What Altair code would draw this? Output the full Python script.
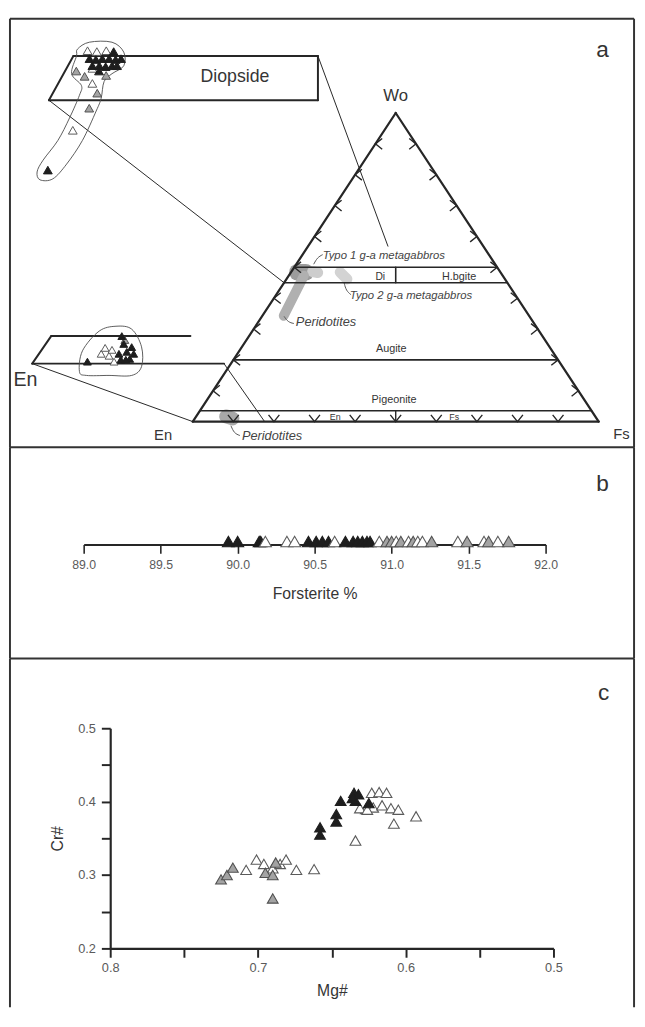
import altair as alt
import pandas as pd

FONT = "Liberation Sans"
INK = "#262626"
TXT = "#353535"
W, HA, HB, HC = 635, 436, 215, 355

# ---------------- panel b : forsterite content of olivine ----------------
fo_pct = [89.94, 90.00, 90.14, 90.15, 90.18, 90.32, 90.37, 90.46, 90.51, 90.55, 90.59,
          90.63, 90.70, 90.75, 90.78, 90.81, 90.84, 90.86, 90.92, 90.97, 91.00, 91.03,
          91.06, 91.11, 91.14, 91.17, 91.20, 91.26, 91.43, 91.49, 91.60, 91.63, 91.69, 91.76]
fo_kind = ["black", "black", "black", "black", "white", "white", "white", "black", "black", "black", "black",
           "white", "black", "black", "black", "black", "black", "black", "white", "gray", "gray", "white",
           "gray", "white", "gray", "white", "white", "gray", "white", "gray", "white", "gray", "white", "gray"]
fo_ticks = [89.0, 89.5, 90.0, 90.5, 91.0, 91.5, 92.0]

# ---------------- panel c : spinel Mg# vs Cr# ----------------
mg_num = [0.725, 0.721, 0.717, 0.695, 0.690, 0.690, 0.688,
          0.708, 0.701, 0.696, 0.690, 0.685, 0.681, 0.674, 0.662, 0.634,
          0.623, 0.618, 0.613, 0.627, 0.622, 0.616, 0.610, 0.605, 0.608, 0.593, 0.631, 0.626,
          0.658, 0.658, 0.647, 0.647, 0.644, 0.635, 0.634, 0.632, 0.636, 0.625]
cr_num = [0.294, 0.300, 0.310, 0.303, 0.300, 0.268, 0.317,
          0.307, 0.321, 0.315, 0.309, 0.315, 0.321, 0.307, 0.308, 0.347,
          0.412, 0.413, 0.412, 0.390, 0.392, 0.395, 0.391, 0.389, 0.370, 0.380, 0.391, 0.389,
          0.365, 0.355, 0.383, 0.373, 0.401, 0.412, 0.401, 0.410, 0.405, 0.398]
sp_kind = ["gray"] * 7 + ["white"] * 21 + ["black"] * 10
mg_ticks = [0.8, 0.75, 0.7, 0.65, 0.6, 0.55, 0.5]
cr_ticks = [0.2, 0.25, 0.3, 0.35, 0.4, 0.45, 0.5]

# ---------------- panel a : pyroxene compositions (mol %) ----------------
cpx_wo = [50.6, 50.5, 50.6, 50.5, 49.7, 49.6, 49.7, 49.7, 49.6, 49.7, 48.9, 48.9, 48.8, 48.9, 48.9,
          48.6, 48.3, 47.7, 48.3, 47.8, 46.9, 45.8, 44.1, 41.6, 37.1]
cpx_fs = [1.15, 2.15, 3.06, 3.87, 1.80, 2.50, 3.11, 3.81, 4.52, 5.02, 2.49, 3.20, 3.90, 4.51, 5.01,
          2.65, 1.15, 2.30, 3.47, 4.45, 3.49, 4.54, 4.57, 4.14, 3.84]
cpx_kind = ["white", "white", "white", "black"] + ["black"] * 11 + ["white", "gray", "gray", "black",
            "gray", "white", "gray", "gray", "white", "black"]

opx_wo = [0.25, 1.25, 2.0, 1.0, 1.75, 0.25, 1.25, 3.5, 2.5, 1.5, 0.6, 0.5, 2.1, 0.5, 3.0, 1.25]
opx_fs = [4.97, 5.74, 5.73, 6.59, 6.49, 7.43, 7.38, 6.52, 7.20, 7.98, 8.70, 7.93, 8.13, 8.39, 7.05, 8.74]
opx_kind = ["black", "white", "white", "white", "white", "white", "black", "black", "black", "black",
            "black", "black", "black", "black", "gray", "black"]

# outlines of the point groups (ternary cartesian units: X = Fs + Wo/2, Y = Wo)
cpx_hull_x = [25.42, 26.63, 28.95, 30.15, 30.15, 28.95, 28.14, 27.84, 27.33, 25.92, 24.31, 22.9,
              21.59, 21.29, 21.9, 23.41, 24.61, 25.62, 25.82, 24.82, 25.32]
cpx_hull_y = [50.78, 51.56, 51.56, 50.44, 48.89, 48.0, 47.11, 45.22, 43.78, 40.44, 37.78, 36.11,
              36.0, 36.89, 38.22, 40.44, 43.0, 45.56, 46.67, 48.0, 50.0]
opx_hull_x = [4.36, 4.64, 6.18, 7.73, 9.18, 10.09, 10.09, 9.18, 7.09, 5.0]
opx_hull_y = [-1.0, 1.63, 4.13, 4.75, 4.38, 2.13, -0.38, -1.5, -1.5, -1.5]

tick_pct = [10, 20, 30, 40, 50, 60, 70, 80, 90]

# enlarged insets: offset / scale in diagram units
DIO = dict(x0=22.5, y0=45.0, ox=-35.44, oy=104.14, sx=2.41, sy=2.866)
ENI = dict(x0=0.0, y0=0.0, ox=-39.56, oy=18.79, sx=2.67, sy=2.55)


def inset(t, X, Y):
    return t["ox"] + (X - t["x0"]) * t["sx"], t["oy"] + (Y - t["y0"]) * t["sy"]


def tern(wo, fs):
    return fs + wo / 2.0, wo


KFILL = alt.Scale(domain=["black", "gray", "white"], range=["#1e1e1e", "#a3a3a3", "#ffffff"])
KSTROKE = alt.Scale(domain=["black", "gray", "white"], range=["#1e1e1e", "#505050", "#5a5a5a"])
ORDER = {"white": 0, "gray": 1, "black": 2}

XS = alt.Scale(domain=[0, 100], range=[186, 599], nice=False, zero=False)
YS = alt.Scale(domain=[0, 100], range=[410, 96], nice=False, zero=False)


def xy():
    return dict(x=alt.X("X:Q", scale=XS, axis=None), y=alt.Y("Y:Q", scale=YS, axis=None))


one = pd.DataFrame({"d": [0]})


def frame(sides, h):
    out = []
    for s in sides:
        if s == "top":
            enc = dict(x=alt.value(0), x2=alt.value(W), y=alt.value(0))
        elif s == "bottom":
            enc = dict(x=alt.value(0), x2=alt.value(W), y=alt.value(h))
        elif s == "left":
            enc = dict(x=alt.value(0), y=alt.value(0), y2=alt.value(h))
        else:
            enc = dict(x=alt.value(W), y=alt.value(0), y2=alt.value(h))
        out.append(alt.Chart(one).mark_rule(color="#333333", strokeWidth=2).encode(**enc))
    return out


def letter(t, x, y):
    return alt.Chart(pd.DataFrame({"t": [t]})).mark_text(
        font=FONT, fontSize=23, color="#333333", align="center", baseline="middle"
    ).encode(text="t:N", x=alt.value(x), y=alt.value(y))


# ---------------- panel a ----------------
segs = []  # (x1, y1, x2, y2, width)
for a, b in [((0, 0), (100, 0)), ((0, 0), (50, 100)), ((100, 0), (50, 100))]:
    segs.append((a[0], a[1], b[0], b[1], 2.3))
for wo in [50, 45, 20, 3.5]:
    segs.append((wo / 2, wo, 100 - wo / 2, wo, 1.6))
segs.append((50, 45, 50, 50, 1.6))
segs.append((50, 0, 50, 3.5, 1.4))
# diopside inset box
box = [(22.5, 45), (25, 50), (50, 50), (50, 45), (22.5, 45)]
for p, q in zip(box[:-1], box[1:]):
    x1, y1 = inset(DIO, *p)
    x2, y2 = inset(DIO, *q)
    segs.append((x1, y1, x2, y2, 2.0))
# enstatite inset
for p, q in [((0, 0), (17.7, 0)), ((1.75, 3.5), (14.6, 3.5)), ((0, 0), (1.75, 3.5))]:
    x1, y1 = inset(ENI, *p)
    x2, y2 = inset(ENI, *q)
    segs.append((x1, y1, x2, y2, 2.0))
# zoom guide lines
zx, zy = inset(DIO, 50, 50)
segs.append((zx, zy, zx + 0.9 * (50 - zx), zy + 0.9 * (50 - zy), 1.0))
zx, zy = inset(DIO, 22.5, 45)
segs.append((zx, zy, 22.5, 45, 1.0))
zx, zy = inset(ENI, 0, 0)
segs.append((zx, zy, 0, 0, 1.0))
zx, zy = inset(ENI, 17.7, 0)
segs.append((zx, zy, 17.7, 0, 1.0))
seg_df = pd.DataFrame(segs, columns=["X", "Y", "X2", "Y2", "w"])

seg_layer = alt.Chart(seg_df).mark_rule(color=INK, strokeCap="round").encode(
    **xy(), x2="X2:Q", y2="Y2:Q", strokeWidth=alt.StrokeWidth("w:Q", scale=None)
)

BLOBS = [
    ([25.8, 27.8], [48.4, 48.4], 17, "#9c9c9c"),
    ([29.5, 30.8], [48.6, 48.3], 11, "#cdcdcd"),
    ([27.4, 22.4], [47.3, 34.3], 10, "#b0b0b0"),
    ([36.3, 38.0], [48.4, 46.2], 11, "#d3d3d3"),
    ([8.2, 9.8], [1.7, 1.0], 14, "#a8a8a8"),
]
blob_layers = []
for xs, ys, wd, col in BLOBS:
    bdf = pd.DataFrame({"X": xs, "Y": ys, "i": list(range(len(xs)))})
    blob_layers.append(alt.Chart(bdf).mark_line(color=col, strokeWidth=wd, strokeCap="round").encode(
        **xy(), order="i:Q"))

LEAD = [
    ([29.8, 30.7, 32.0], [51.0, 53.2, 54.1]),
    ([37.3, 37.8, 39.0], [44.9, 42.4, 41.1]),
    ([22.5, 23.5, 24.9], [34.1, 32.2, 31.8]),
    ([9.4, 10.2, 11.6], [-1.3, -3.8, -4.5]),
]
lrows = []
for g, (xs, ys) in enumerate(LEAD):
    for i, (x, y) in enumerate(zip(xs, ys)):
        lrows.append({"g": g, "i": i, "X": x, "Y": y})
lead_layer = alt.Chart(pd.DataFrame(lrows)).mark_line(
    color="#555555", strokeWidth=1, interpolate="basis").encode(**xy(), detail="g:N", order="i:Q")

hrows = []
for i, (hx, hy) in enumerate(zip(cpx_hull_x, cpx_hull_y)):
    X, Y = inset(DIO, hx, hy)
    hrows.append({"g": "cpx", "i": i, "X": X, "Y": Y})
for i, (hx, hy) in enumerate(zip(opx_hull_x, opx_hull_y)):
    X, Y = inset(ENI, hx, hy)
    hrows.append({"g": "opx", "i": i, "X": X, "Y": Y})
hull_layer = alt.Chart(pd.DataFrame(hrows)).mark_line(
    color="#4a4a4a", strokeWidth=0.9, interpolate="cardinal-closed").encode(
    **xy(), detail="g:N", order="i:Q")

prow = []
for wo, fs, k in zip(cpx_wo, cpx_fs, cpx_kind):
    X, Y = inset(DIO, *tern(wo, fs))
    prow.append({"X": X, "Y": Y, "kind": k, "o": ORDER[k], "s": 80})
for wo, fs, k in zip(opx_wo, opx_fs, opx_kind):
    X, Y = inset(ENI, *tern(wo, fs))
    prow.append({"X": X, "Y": Y, "kind": k, "o": ORDER[k], "s": 64})
pyx_df = pd.DataFrame(prow).sort_values("o", kind="stable")
pyx_layer = alt.Chart(pyx_df).mark_point(shape="triangle-up", filled=True, strokeWidth=1, opacity=1).encode(
    **xy(),
    fill=alt.Fill("kind:N", scale=KFILL, legend=None),
    stroke=alt.Stroke("kind:N", scale=KSTROKE, legend=None),
    size=alt.Size("s:Q", scale=None),
)

left_ticks = pd.DataFrame({"X": [t / 2 for t in tick_pct], "Y": tick_pct})
right_ticks = pd.DataFrame({"X": [100 - t / 2 for t in tick_pct], "Y": tick_pct})
base_ticks = pd.DataFrame({"X": tick_pct, "Y": [0] * len(tick_pct)})
chev = []
for df, path in [(left_ticks, "M 1 -0.8 L 0 0 L 1 0.8"),
                 (right_ticks, "M -1 -0.8 L 0 0 L -1 0.8"),
                 (base_ticks, "M -0.8 -1 L 0 0 L 0.8 -1")]:
    chev.append(alt.Chart(df).mark_point(shape=path, filled=False, size=190, strokeWidth=1.4,
                                         color=INK, opacity=1).encode(**xy()))

lab_t = ["Diopside", "Wo", "En", "Fs", "En", "Di", "H.bgite", "Augite", "Pigeonite", "En", "Fs"]
lab_x = [10.4, 50.0, -7.3, 105.6, -41.2, 46.2, 65.6, 48.9, 49.6, 35.1, 64.4]
lab_y = [111.8, 105.5, -4.5, -4.1, 13.4, 46.8, 46.8, 23.6, 7.0, 1.6, 1.6]
lab_s = [18, 17, 15, 15, 20, 10.5, 11, 11, 11, 9, 9]
lab_layer = alt.Chart(pd.DataFrame({"t": lab_t, "X": lab_x, "Y": lab_y, "fs": lab_s})).mark_text(
    font=FONT, color=TXT, align="center", baseline="middle").encode(
    **xy(), text="t:N", size=alt.Size("fs:Q", scale=None))

it_t = ["Typo 1 g-a metagabbros", "Typo 2 g-a metagabbros", "Peridotites", "Peridotites"]
it_x = [32.0, 38.7, 25.4, 12.1]
it_y = [53.8, 40.8, 32.2, -4.8]
it_s = [11.5, 11.5, 13, 13]
it_layer = alt.Chart(pd.DataFrame({"t": it_t, "X": it_x, "Y": it_y, "fs": it_s})).mark_text(
    font=FONT, color="#444444", fontStyle="italic", align="left", baseline="middle").encode(
    **xy(), text="t:N", size=alt.Size("fs:Q", scale=None))

panel_a = alt.layer(
    *frame(["top", "left", "right", "bottom"], HA),
    *blob_layers, lead_layer, seg_layer, *chev, hull_layer, pyx_layer, lab_layer, it_layer,
    letter("a", 603, 32),
).properties(width=W, height=HA)

# ---------------- panel b ----------------
fo_df = pd.DataFrame({"fo": fo_pct, "kind": fo_kind})
axis_b = alt.Axis(
    values=fo_ticks, format=".1f", offset=-(HB - 99), tickSize=9, tickWidth=1.6, tickColor=INK,
    domainColor=INK, domainWidth=2, labelFont=FONT, labelFontSize=12.5, labelColor="#5a5a5a",
    labelPadding=5, labelFlush=False, labelOverlap=False, grid=False,
    title="Forsterite %", titleFont=FONT, titleFontSize=16, titleFontWeight="normal",
    titleColor=TXT, titlePadding=16,
)
pts_b = alt.Chart(fo_df).mark_point(shape="triangle-up", filled=True, size=150, strokeWidth=1.1, opacity=1).encode(
    x=alt.X("fo:Q", scale=alt.Scale(domain=[89, 92], range=[75, 545], nice=False, zero=False), axis=axis_b),
    y=alt.value(96),
    fill=alt.Fill("kind:N", scale=KFILL, legend=None),
    stroke=alt.Stroke("kind:N", scale=KSTROKE, legend=None),
)
panel_b = alt.layer(*frame(["left", "right", "bottom"], HB), pts_b, letter("b", 603, 38)).properties(
    width=W, height=HB)

# ---------------- panel c ----------------
LBL = "abs(datum.value*10 - round(datum.value*10)) < 0.01 ? format(datum.value, '.1f') : ''"
common = dict(tickSize=9, tickWidth=2, tickColor=INK, domainColor=INK, domainWidth=2.2,
              labelFont=FONT, labelFontSize=13, labelColor="#5a5a5a", labelFlush=False,
              labelOverlap=False, grid=False, labelExpr=LBL, titleFont=FONT, titleFontSize=16,
              titleFontWeight="normal", titleColor=TXT)
sp_df = pd.DataFrame({"mg": mg_num, "cr": cr_num, "kind": sp_kind})
sp_df["o"] = sp_df["kind"].map(ORDER)
sp_df = sp_df.sort_values("o", kind="stable")
pts_c = alt.Chart(sp_df).mark_point(shape="triangle-up", filled=True, size=120, strokeWidth=1.1, opacity=1).encode(
    x=alt.X("mg:Q", scale=alt.Scale(domain=[0.8, 0.5], range=[102, 553], nice=False, zero=False),
            axis=alt.Axis(values=mg_ticks, offset=-(HC - 295), labelPadding=5, title="Mg#",
                          titlePadding=8, **common)),
    y=alt.Y("cr:Q", scale=alt.Scale(domain=[0.2, 0.5], range=[295, 71], nice=False, zero=False),
            axis=alt.Axis(values=cr_ticks, offset=-102, labelPadding=6, title="Cr#",
                          titlePadding=12, **common)),
    fill=alt.Fill("kind:N", scale=KFILL, legend=None),
    stroke=alt.Stroke("kind:N", scale=KSTROKE, legend=None),
)
panel_c = alt.layer(*frame(["left", "right"], HC), pts_c, letter("c", 604, 35)).properties(
    width=W, height=HC)

chart = alt.vconcat(panel_a, panel_b, panel_c, spacing=0, bounds="flush").properties(
    padding={"left": 1, "top": 1, "right": 2, "bottom": 2}, background="white"
).configure_view(stroke=None)

chart.save("out.html", embed_options={"renderer": "svg", "actions": False})
